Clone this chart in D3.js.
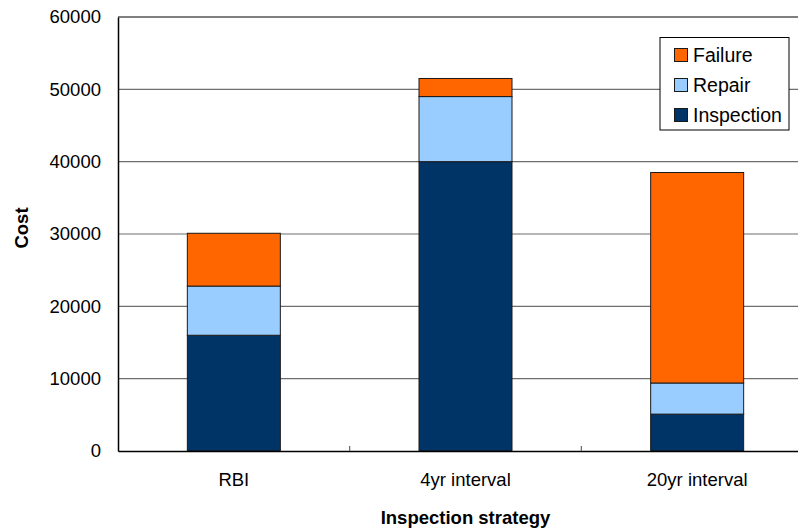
<!DOCTYPE html>
<html>
<head>
<meta charset="utf-8">
<script src="https://cdn.jsdelivr.net/npm/d3@7"></script>
<style>
  html, body { margin: 0; padding: 0; background: #fff; }
  svg { display: block; font-family: "Liberation Sans", Arial, sans-serif; }
</style>
</head>
<body>
<svg id="chart" width="798" height="529"></svg>
<script>
// Cost breakdown per inspection strategy
const categories = ["RBI", "4yr interval", "20yr interval"];
const seriesNames = ["Inspection", "Repair", "Failure"];
const inspection = [16000, 40000, 5100];
const repair = [6800, 9000, 4300];
const failure = [7300, 2500, 29100];
const yTicks = [0, 10000, 20000, 30000, 40000, 50000, 60000];
const colors = { Inspection: "#003366", Repair: "#99CCFF", Failure: "#FF6600" };

const rows = categories.map((c, i) => ({
  cat: c, Inspection: inspection[i], Repair: repair[i], Failure: failure[i]
}));

const svg = d3.select("#chart");
const m = { left: 118, top: 17, right: 813, bottom: 451 };

const x = d3.scaleBand().domain(categories).range([m.left, m.right]).paddingInner(0).paddingOuter(0);
const y = d3.scaleLinear().domain([0, 60000]).range([m.bottom, m.top]);
const bw = 93;

// horizontal gridlines
svg.append("g").selectAll("line").data(yTicks.filter(d => d > 0)).join("line")
  .attr("x1", m.left).attr("x2", m.right)
  .attr("y1", d => y(d)).attr("y2", d => y(d))
  .attr("stroke", d => d === 60000 ? "#000" : "#6e6e6e").attr("stroke-width", 1.2);

// stacked bars
const stack = d3.stack().keys(seriesNames)(rows);
svg.append("g").selectAll("g").data(stack).join("g")
  .attr("fill", s => colors[s.key])
  .selectAll("rect").data(s => s).join("rect")
  .attr("x", d => x(d.data.cat) + x.bandwidth() / 2 - bw / 2)
  .attr("width", bw)
  .attr("y", d => y(d[1]))
  .attr("height", d => y(d[0]) - y(d[1]))
  .attr("stroke", "#1a1a1a").attr("stroke-width", 1);

// y axis
const yAxis = svg.append("g").attr("transform", `translate(${m.left},0)`)
  .call(d3.axisLeft(y).tickValues(yTicks).tickFormat(d3.format("d")).tickSize(0).tickPadding(17));
yAxis.select(".domain").attr("stroke", "#000").attr("stroke-width", 1.5);
yAxis.selectAll("text").attr("font-size", "18.5px").attr("fill", "#000")
  .attr("font-family", "Liberation Sans, Arial, sans-serif");

// x axis
const xAxis = svg.append("g").attr("transform", `translate(0,${m.bottom})`)
  .call(d3.axisBottom(x).tickSize(0).tickPadding(22));
xAxis.select(".domain").attr("stroke", "#000").attr("stroke-width", 1.5);
xAxis.selectAll("text").attr("font-size", "18.5px").attr("fill", "#000")
  .attr("font-family", "Liberation Sans, Arial, sans-serif");

// category separators on the x axis
svg.append("g").selectAll("line").data(categories.slice(1)).join("line")
  .attr("x1", d => x(d)).attr("x2", d => x(d))
  .attr("y1", m.bottom).attr("y2", m.bottom - 5)
  .attr("stroke", "#666").attr("stroke-width", 1.2);

// axis titles
svg.append("text")
  .attr("transform", "translate(28,228) rotate(-90)")
  .attr("text-anchor", "middle").attr("font-weight", "bold").attr("font-size", "18.5px")
  .text("Cost");
svg.append("text")
  .attr("x", (m.left + m.right) / 2).attr("y", 524)
  .attr("text-anchor", "middle").attr("font-weight", "bold").attr("font-size", "18.5px")
  .text("Inspection strategy");

// legend
const lg = svg.append("g");
lg.append("rect").attr("x", 660).attr("y", 37.5).attr("width", 129).attr("height", 92.5)
  .attr("fill", "#fff").attr("stroke", "#000").attr("stroke-width", 1);
const legendItems = ["Failure", "Repair", "Inspection"];
const ly = d3.scalePoint().domain(legendItems).range([55, 115]);
const li = lg.selectAll("g.item").data(legendItems).join("g").attr("class", "item");
li.append("rect").attr("x", 674.5).attr("y", d => ly(d) - 6.5).attr("width", 13).attr("height", 13)
  .attr("fill", d => colors[d]).attr("stroke", "#1a1a1a").attr("stroke-width", 1);
li.append("text").attr("x", 693).attr("y", d => ly(d) + 7)
  .attr("font-size", "19.5px").attr("fill", "#000").text(d => d);
</script>
</body>
</html>
